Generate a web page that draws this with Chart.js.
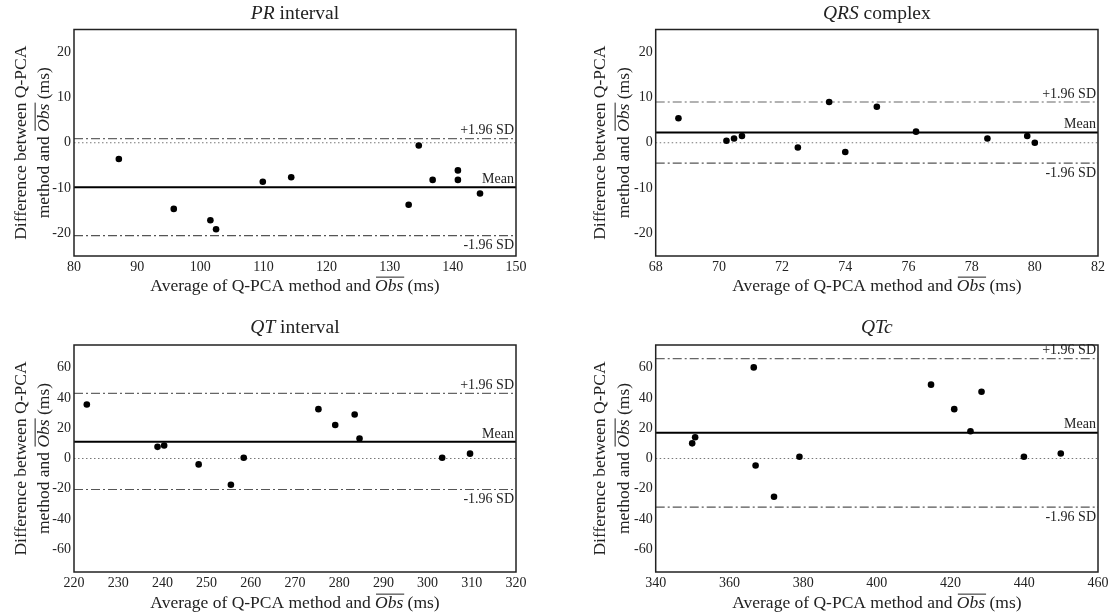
<!DOCTYPE html>
<html>
<head>
<meta charset="utf-8">
<script src="https://cdn.jsdelivr.net/npm/chart.js@4.4.1/dist/chart.umd.min.js"></script>
<style>
  body { margin: 0; background: #fff; }
  #wrap { position: relative; width: 1117px; height: 615px; }
  canvas { position: absolute; }
</style>
</head>
<body>
<div id="wrap">
  <canvas id="c1" width="558" height="307" style="left:0;top:0"></canvas>
  <canvas id="c2" width="559" height="307" style="left:558px;top:0"></canvas>
  <canvas id="c3" width="558" height="308" style="left:0;top:307px"></canvas>
  <canvas id="c4" width="559" height="308" style="left:558px;top:307px"></canvas>
</div>
<script>
// PR interval
const prAvg  = [87.1, 95.8, 101.6, 102.5, 109.9, 114.4, 133.0, 134.6, 136.8, 140.8, 140.8, 144.3];
const prDiff = [-3.6, -14.6, -17.1, -19.1, -8.6, -7.6, -13.7, -0.6, -8.2, -6.1, -8.2, -11.2];
const prLimits = [0.9, -9.8, -20.5];          // +1.96 SD, mean, -1.96 SD
const prXTicks = [80, 90, 100, 110, 120, 130, 140, 150];

// QRS complex
const qrsAvg  = [68.72, 70.24, 70.48, 70.73, 72.5, 73.49, 74.0, 75.0, 76.24, 78.5, 79.76, 80.0];
const qrsDiff = [5.4, 0.45, 0.95, 1.5, -1.05, 9.0, -2.05, 7.95, 2.45, 0.95, 1.5, 0.0];
const qrsLimits = [9.0, 2.25, -4.5];
const qrsXTicks = [68, 70, 72, 74, 76, 78, 80, 82];

// QT interval
const qtAvg  = [222.9, 238.9, 240.4, 248.2, 255.5, 258.4, 275.3, 279.1, 283.5, 284.6, 303.3, 309.6];
const qtDiff = [35.7, 7.7, 8.6, -3.9, -17.3, 0.5, 32.6, 22.1, 29.1, 13.2, 0.5, 3.2];
const qtLimits = [43.0, 11.0, -20.5];
const qtXTicks = [220, 230, 240, 250, 260, 270, 280, 290, 300, 310, 320];

// QTc
const qtcAvg  = [349.9, 350.7, 366.6, 367.1, 372.1, 379.0, 414.7, 421.0, 425.4, 428.4, 439.9, 449.9];
const qtcDiff = [10.0, 14.0, 60.2, -4.6, -25.3, 1.2, 48.8, 32.6, 18.0, 44.1, 1.2, 3.3];
const qtcLimits = [66.0, 17.0, -32.1];
const qtcXTicks = [340, 360, 380, 400, 420, 440, 460];

const smallYTicks = [-20, -10, 0, 10, 20];   // range -25..25
const bigYTicks = [-60, -40, -20, 0, 20, 40, 60]; // range -75..75

const SERIF = '"Liberation Serif", "Times New Roman", serif';
Chart.defaults.font.family = SERIF;
Chart.defaults.color = '#222';

const xTitleParts = [
  { t: 'Average of Q-PCA method and ' },
  { t: 'Obs', i: true, over: true },
  { t: ' (ms)' }
];
const yTitle1 = [{ t: 'Difference between Q-PCA' }];
const yTitle2 = [
  { t: 'method and ' },
  { t: 'Obs', i: true, over: true },
  { t: ' (ms)' }
];

// draws a line of text with italic / overlined pieces, centred on cx, cy
function drawRich(ctx, parts, cx, cy, size) {
  let total = 0;
  parts.forEach(p => {
    ctx.font = (p.i ? 'italic ' : '') + size + 'px ' + SERIF;
    p.w = ctx.measureText(p.t).width;
    total += p.w;
  });
  let x = cx - total / 2;
  const base = cy + size * 0.33;
  ctx.textAlign = 'left';
  ctx.textBaseline = 'alphabetic';
  parts.forEach(p => {
    ctx.font = (p.i ? 'italic ' : '') + size + 'px ' + SERIF;
    ctx.fillText(p.t, x, base);
    if (p.over) {
      ctx.beginPath();
      ctx.lineWidth = 1;
      ctx.moveTo(x + 1, base - size * 0.78);
      ctx.lineTo(x + p.w + 1, base - size * 0.78);
      ctx.stroke();
    }
    x += p.w;
  });
}

const baPlugin = {
  id: 'blandAltman',
  afterDraw(chart, args, opts) {
    const ctx = chart.ctx, a = chart.chartArea, ys = chart.scales.y;
    ctx.save();
    ctx.strokeStyle = '#222';
    ctx.lineWidth = 1.5;
    ctx.strokeRect(a.left, a.top, a.right - a.left, a.bottom - a.top);

    ctx.fillStyle = '#222';
    ctx.font = '14px ' + SERIF;
    ctx.textAlign = 'right';
    ctx.textBaseline = 'bottom';
    ctx.fillText('+1.96 SD', a.right - 2, ys.getPixelForValue(opts.limits[0]) - 1);
    ctx.fillText('Mean', a.right - 2, ys.getPixelForValue(opts.limits[1]) - 1);
    ctx.textBaseline = 'top';
    ctx.fillText('-1.96 SD', a.right - 2, ys.getPixelForValue(opts.limits[2]) + 3);

    const cx = (a.left + a.right) / 2, cy = (a.top + a.bottom) / 2;
    drawRich(ctx, opts.title, cx, opts.titleY, 19.5);
    drawRich(ctx, xTitleParts, cx, opts.xTitleY, 17.5);

    ctx.save();
    ctx.translate(opts.yTitleX[0], cy);
    ctx.rotate(-Math.PI / 2);
    drawRich(ctx, yTitle1, 0, 0, 17.5);
    ctx.restore();
    ctx.save();
    ctx.translate(opts.yTitleX[1], cy);
    ctx.rotate(-Math.PI / 2);
    drawRich(ctx, yTitle2, 0, 0, 17.5);
    ctx.restore();
    ctx.restore();
  }
};

function hline(xs, v, color, width, dash) {
  return {
    data: [{ x: xs[0], y: v }, { x: xs[xs.length - 1], y: v }],
    showLine: true, pointRadius: 0, borderColor: color,
    borderWidth: width, borderDash: dash
  };
}

function makePanel(id, p) {
  const pts = p.avg.map((v, i) => ({ x: v, y: p.diff[i] }));
  const yMax = p.yTicks[p.yTicks.length - 1] * 1.25;
  return new Chart(document.getElementById(id), {
    type: 'scatter',
    data: {
      datasets: [
        { data: pts, pointRadius: 3.3, pointBackgroundColor: '#000', pointBorderWidth: 0 },
        hline(p.xTicks, p.limits[1], '#000', 2, []),
        hline(p.xTicks, p.limits[0], '#666', 1.2, [9, 3, 2, 3]),
        hline(p.xTicks, p.limits[2], '#555', 1.2, [9, 3, 2, 3]),
        hline(p.xTicks, 0, '#777', 1, [1.5, 2.5])
      ]
    },
    options: {
      responsive: false,
      animation: false,
      layout: { padding: { top: p.area.top, right: p.w - p.area.right, left: 0, bottom: 0 } },
      plugins: {
        legend: { display: false },
        tooltip: { enabled: false },
        blandAltman: {
          limits: p.limits, title: p.title,
          titleY: p.titleY, xTitleY: p.xTitleY, yTitleX: p.yTitleX
        }
      },
      scales: {
        x: {
          type: 'linear',
          min: p.xTicks[0], max: p.xTicks[p.xTicks.length - 1],
          grid: { display: false, drawTicks: false },
          border: { display: false },
          afterBuildTicks: s => { s.ticks = p.xTicks.map(v => ({ value: v })); },
          afterFit: s => { s.height = p.h - p.area.bottom; },
          ticks: { font: { size: 14 }, padding: 3, color: '#222', maxRotation: 0 }
        },
        y: {
          type: 'linear',
          min: -yMax, max: yMax,
          grid: { display: false, drawTicks: false },
          border: { display: false },
          afterBuildTicks: s => { s.ticks = p.yTicks.map(v => ({ value: v })); },
          afterFit: s => { s.width = p.area.left; },
          ticks: { font: { size: 14 }, padding: 3, color: '#222' }
        }
      }
    },
    plugins: [baPlugin]
  });
}

makePanel('c1', {
  avg: prAvg, diff: prDiff, limits: prLimits, xTicks: prXTicks, yTicks: smallYTicks,
  w: 558, h: 307, area: { left: 74, right: 516, top: 29.5, bottom: 256 },
  title: [{ t: 'PR', i: true }, { t: ' interval' }], titleY: 13, xTitleY: 285, yTitleX: [20, 43]
});
makePanel('c2', {
  avg: qrsAvg, diff: qrsDiff, limits: qrsLimits, xTicks: qrsXTicks, yTicks: smallYTicks,
  w: 559, h: 307, area: { left: 97.7, right: 540, top: 29.5, bottom: 256 },
  title: [{ t: 'QRS', i: true }, { t: ' complex' }], titleY: 13, xTitleY: 285, yTitleX: [41.5, 65]
});
makePanel('c3', {
  avg: qtAvg, diff: qtDiff, limits: qtLimits, xTicks: qtXTicks, yTicks: bigYTicks,
  w: 558, h: 308, area: { left: 74, right: 516, top: 38, bottom: 265 },
  title: [{ t: 'QT', i: true }, { t: ' interval' }], titleY: 20, xTitleY: 295, yTitleX: [20, 43]
});
makePanel('c4', {
  avg: qtcAvg, diff: qtcDiff, limits: qtcLimits, xTicks: qtcXTicks, yTicks: bigYTicks,
  w: 559, h: 308, area: { left: 97.7, right: 540, top: 38, bottom: 265 },
  title: [{ t: 'QTc', i: true }], titleY: 20, xTitleY: 295, yTitleX: [41.5, 65]
});
</script>
</body>
</html>
